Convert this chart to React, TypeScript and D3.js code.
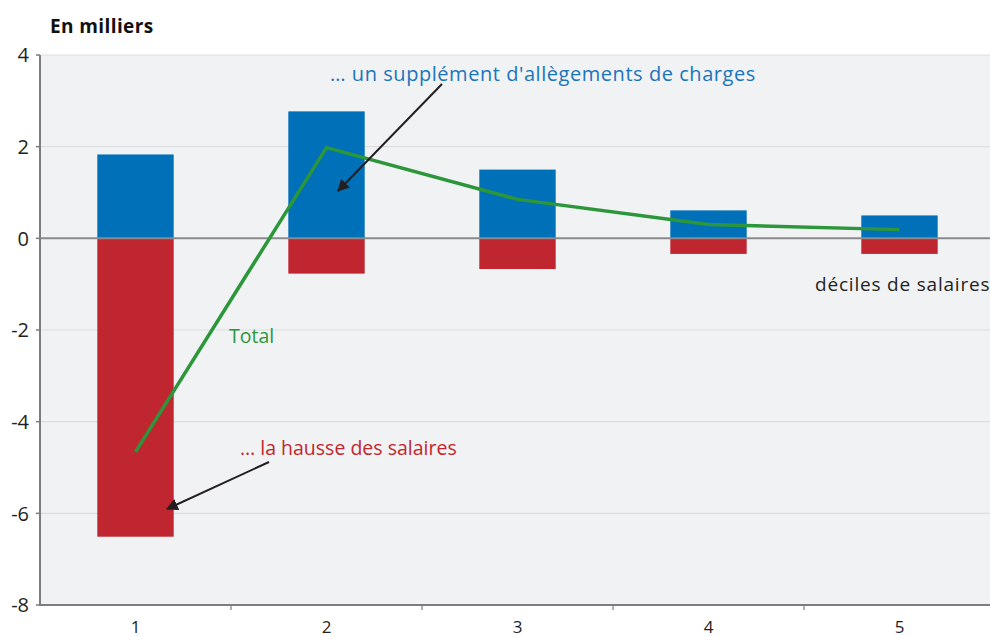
import React from 'react';
import * as d3 from 'd3';

// déciles de salaires
const deciles = ['1', '2', '3', '4', '5'];
// supplément d'allègements de charges (en milliers)
const allegements = [1.83, 2.77, 1.5, 0.61, 0.5];
// hausse des salaires (en milliers)
const hausse = [-6.51, -0.77, -0.67, -0.34, -0.34];
// total
const total = [-4.66, 1.98, 0.85, 0.3, 0.19];
const yTicks = [4, 2, 0, -2, -4, -6, -8];

const W = 990;
const H = 637;
const margin = { top: 55, right: -5, bottom: 32, left: 40 };
const FONT = '"Open Sans", Lato, sans-serif';

const BLUE = '#0070b8';
const RED = '#c0262f';
const GREEN = '#2b963a';

export default function App() {
  const x = d3.scaleBand()
    .domain(deciles)
    .range([margin.left, W - margin.right])
    .paddingInner(0.6)
    .paddingOuter(0.3);
  const y = d3.scaleLinear()
    .domain([-8, 4])
    .range([H - margin.bottom, margin.top]);

  const step = x.step();
  const center = (d) => x(d) + x.bandwidth() / 2;
  const line = d3.line()
    .x((d, i) => center(deciles[i]))
    .y((d) => y(d));

  const plotRight = W;
  const bottom = y(-8);

  return (
    <svg width={W} height={H} style={{ position: 'absolute', left: 0, top: 0 }} fontFamily={FONT}>
      <defs>
        <marker id="arr" viewBox="0 0 10 10" refX="9" refY="5" markerWidth="6" markerHeight="6" orient="auto">
          <path d="M0,0 L10,5 L0,10 z" fill="#231f20" />
        </marker>
      </defs>
      <rect x={margin.left} y={y(4)} width={plotRight - margin.left} height={bottom - y(4)} fill="#f1f2f4" />

      {yTicks.filter((t) => t !== 0 && t !== -8).map((t) => (
        <line key={t} x1={margin.left} x2={plotRight} y1={y(t)} y2={y(t)} stroke="#dcdde0" strokeWidth={1.2} />
      ))}

      {deciles.map((d, i) => (
        <g key={d}>
          <rect x={x(d)} width={x.bandwidth()} y={y(allegements[i])} height={y(0) - y(allegements[i])} fill={BLUE} />
          <rect x={x(d)} width={x.bandwidth()} y={y(0)} height={y(hausse[i]) - y(0)} fill={RED} />
        </g>
      ))}

      <line x1={margin.left} x2={plotRight} y1={y(0)} y2={y(0)} stroke="#8a8a8c" strokeWidth={2} />

      <path d={line(total)} fill="none" stroke={GREEN} strokeWidth={3.5} strokeLinejoin="round" />

      {/* axes */}
      <line x1={margin.left} x2={margin.left} y1={y(4)} y2={bottom + 1} stroke="#7d7d80" strokeWidth={2} />
      <line x1={margin.left - 1} x2={plotRight} y1={bottom} y2={bottom} stroke="#7d7d80" strokeWidth={2} />
      {yTicks.map((t) => (
        <g key={t}>
          <line x1={margin.left - 4} x2={margin.left} y1={y(t)} y2={y(t)} stroke="#7d7d80" strokeWidth={1.5} />
          <text x={margin.left - 11} y={y(t)} dy="0.36em" textAnchor="end" fontSize={20} fill="#231f20">{t}</text>
        </g>
      ))}
      {deciles.slice(1).map((d) => (
        <line key={d} x1={x(d) - (step - x.bandwidth()) / 2} x2={x(d) - (step - x.bandwidth()) / 2} y1={bottom} y2={bottom + 5} stroke="#7d7d80" strokeWidth={1.2} />
      ))}
      {deciles.map((d) => (
        <text key={d} x={center(d)} y={bottom + 28} textAnchor="middle" fontSize={17} fill="#231f20">{d}</text>
      ))}

      <text x={50} y={33} fontSize={19} fontWeight="bold" fill="#111" letterSpacing={0.4}>En milliers</text>

      {/* annotations */}
      <text x={330} y={81} fontSize={20} fill="#1a75bb" letterSpacing={0.55}>… un supplément d'allègements de charges</text>
      <line x1={442} y1={84} x2={338} y2={191} stroke="#231f20" strokeWidth={2} markerEnd="url(#arr)" />
      <text x={240} y={455} fontSize={19.5} fill="#c1272d">… la hausse des salaires</text>
      <line x1={269} y1={462} x2={167} y2={509} stroke="#231f20" strokeWidth={2} markerEnd="url(#arr)" />
      <text x={229} y={343} fontSize={19.5} fill={GREEN}>Total</text>
      <text x={815} y={291} fontSize={19} fill="#231f20" letterSpacing={0.8}>déciles de salaires</text>
    </svg>
  );
}
